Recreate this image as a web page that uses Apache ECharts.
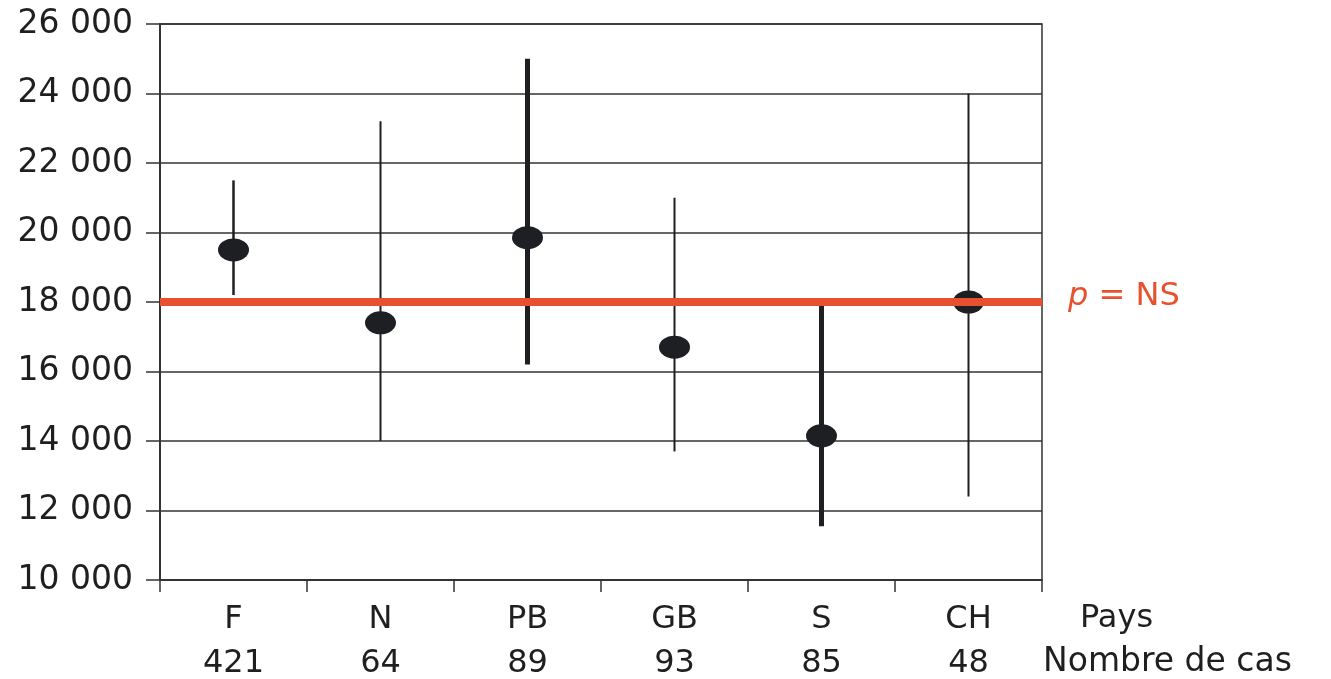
<!DOCTYPE html>
<html>
<head>
<meta charset="utf-8">
<script src="https://cdn.jsdelivr.net/npm/echarts@6/dist/echarts.min.js"></script>
<style>
  html, body { margin: 0; padding: 0; background: #ffffff; }
  #chart { width: 1331px; height: 679px; }
</style>
</head>
<body>
<div id="chart"></div>
<script>
// ---- Data ----
var categories = ['F', 'N', 'PB', 'GB', 'S', 'CH'];
var caseCounts = [421, 64, 89, 93, 85, 48];
var means = [19500, 17400, 19850, 16700, 14150, 18000];
var lows  = [18200, 14000, 16200, 13700, 11550, 12400];
var highs = [21500, 23200, 25000, 21000, 18000, 24000];
var referenceValue = 18000;
var yTicks = [10000, 12000, 14000, 16000, 18000, 20000, 22000, 24000, 26000];
var xAxisTitles = ['Pays', 'Nombre de cas'];
var refLabel = 'p = NS';

// ---- Styles ----
var barWidths = [2.5, 2, 5, 2, 5, 2];
var inkColor = '#1e1f22';
var gridColor = '#333333';
var redColor = '#E8512F';
var fontFamily = '"DejaVu Sans", "Liberation Sans", Arial, sans-serif';

var errData = categories.map(function (c, i) { return [i, lows[i], highs[i]]; });
var meanData = categories.map(function (c, i) { return [i, means[i]]; });

function fmtThousands(v) {
  var s = String(Math.round(v));
  return s.replace(/\B(?=(\d{3})+(?!\d))/g, ' ');
}

var chart = echarts.init(document.getElementById('chart'), null, { renderer: 'canvas' });

var option = {
  backgroundColor: '#ffffff',
  animation: false,
  grid: {
    left: 160, right: 289, top: 24, bottom: 99,
    containLabel: false,
    outerBoundsMode: 'none',
    show: true, borderColor: gridColor, borderWidth: 1.5, backgroundColor: 'transparent'
  },
  xAxis: {
    type: 'category',
    data: categories,
    boundaryGap: true,
    axisLine: { show: true, lineStyle: { color: gridColor, width: 2 } },
    axisTick: { show: true, length: 12, lineStyle: { color: gridColor, width: 1.5 } },
    axisLabel: {
      margin: 18,
      color: '#1f1f1f',
      fontFamily: fontFamily,
      fontSize: 32,
      lineHeight: 44,
      formatter: function (val, idx) { return val + '\n' + caseCounts[idx]; }
    },
    splitLine: { show: false }
  },
  yAxis: {
    type: 'value',
    min: yTicks[0],
    max: yTicks[yTicks.length - 1],
    interval: yTicks[1] - yTicks[0],
    axisLine: { show: true, lineStyle: { color: gridColor, width: 2 } },
    axisTick: { show: true, length: 14, lineStyle: { color: gridColor, width: 1.5 } },
    axisLabel: {
      margin: 27,
      color: '#1f1f1f',
      fontFamily: fontFamily,
      fontSize: 33,
      formatter: fmtThousands
    },
    splitLine: { show: true, lineStyle: { color: gridColor, width: 1.5 } }
  },
  graphic: [
    {
      type: 'text', left: 1080, top: 603,
      style: { text: xAxisTitles[0], fill: '#1f1f1f', font: '32px ' + fontFamily }
    },
    {
      type: 'text', left: 1043, top: 646,
      style: { text: xAxisTitles[1], fill: '#1f1f1f', font: '33px ' + fontFamily }
    }
  ],
  series: [
    {
      name: 'range',
      type: 'custom',
      z: 2,
      data: errData,
      renderItem: function (params, api) {
        var x = api.value(0);
        var lo = api.coord([x, api.value(1)]);
        var hi = api.coord([x, api.value(2)]);
        return {
          type: 'line',
          shape: { x1: lo[0], y1: lo[1], x2: hi[0], y2: hi[1] },
          style: { stroke: inkColor, lineWidth: barWidths[params.dataIndex] }
        };
      }
    },
    {
      name: 'mean',
      type: 'scatter',
      z: 3,
      symbol: 'circle',
      symbolSize: [31, 23],
      itemStyle: { color: inkColor, opacity: 1 },
      data: meanData
    },
    {
      name: 'reference',
      type: 'line',
      z: 5,
      data: [],
      markLine: {
        silent: true,
        symbol: ['none', 'none'],
        lineStyle: { color: redColor, width: 8, type: 'solid', opacity: 1 },
        label: {
          show: true,
          position: 'end',
          distance: 26,
          color: redColor,
          fontFamily: fontFamily,
          fontSize: 32,
          offset: [0, -5],
          formatter: function () {
            var parts = refLabel.split(' ');
            return '{i|' + parts[0] + '} ' + parts.slice(1).join(' ');
          },
          rich: {
            i: { fontStyle: 'italic', color: redColor, fontFamily: fontFamily, fontSize: 32 }
          }
        },
        emphasis: { disabled: true },
        data: [{ yAxis: referenceValue }]
      }
    }
  ]
};

chart.setOption(option);
</script>
</body>
</html>
